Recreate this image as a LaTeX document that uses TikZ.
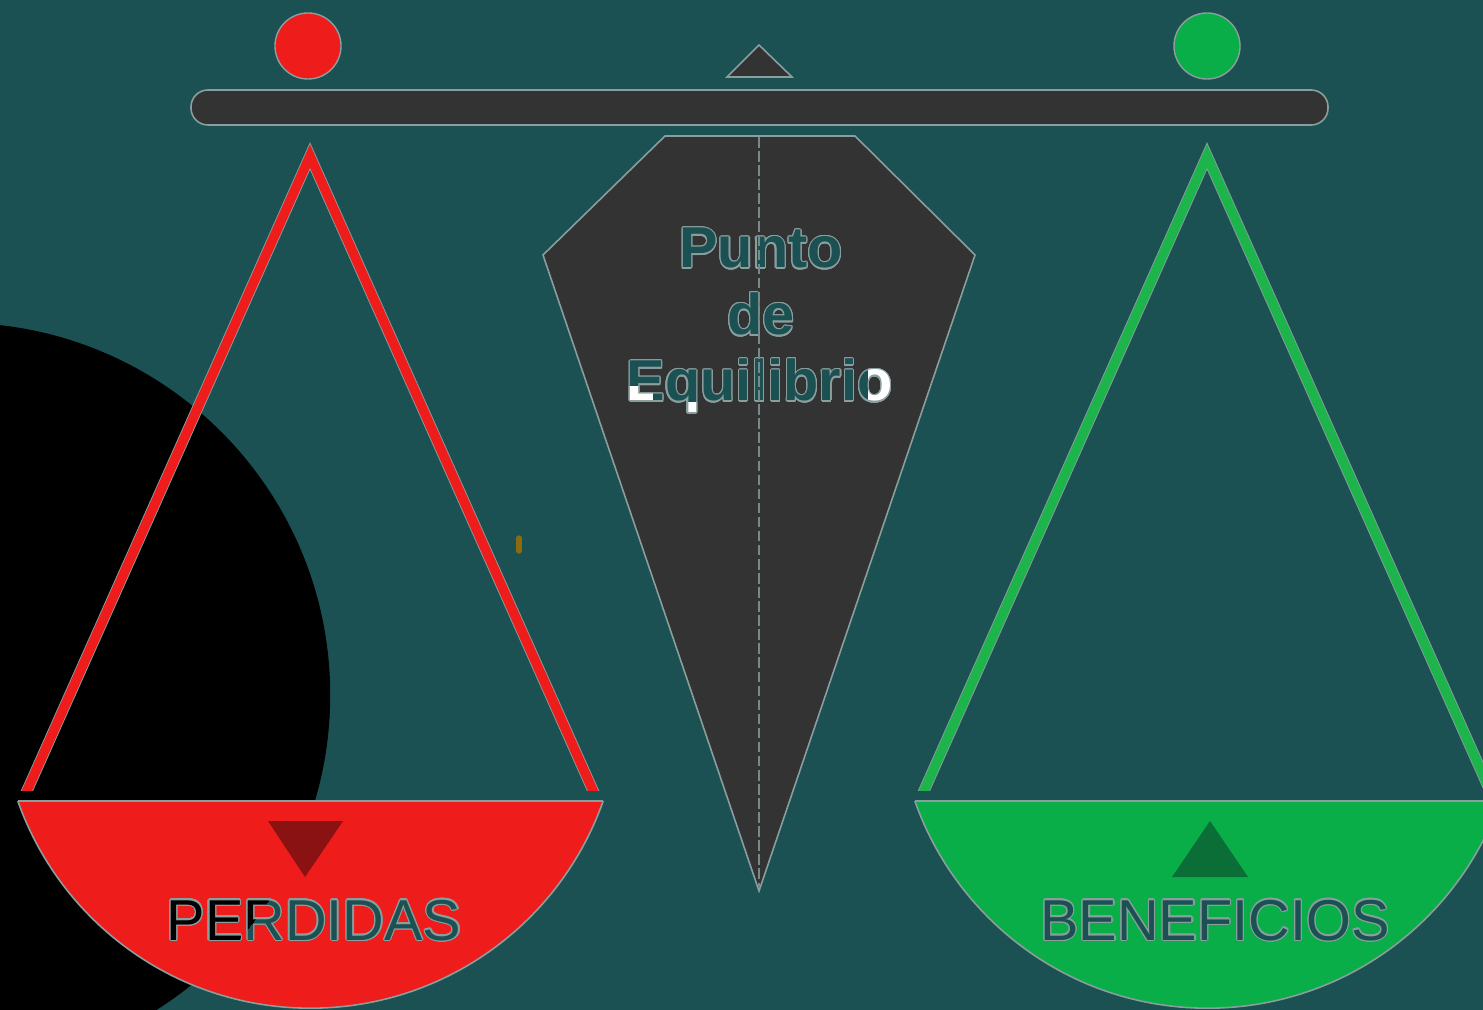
\documentclass[tikz,border=0pt]{standalone}
\usepackage{fontspec}
\setmainfont{Liberation Sans}
\usepackage{contour}
\contourlength{0.35pt}
\definecolor{bg}{HTML}{1B5152}
\definecolor{outl}{HTML}{8A9E9E}
\definecolor{dgray}{HTML}{333333}
\definecolor{redc}{HTML}{EE1C1A}
\definecolor{greenc}{HTML}{0AAE48}
\definecolor{greenleg}{HTML}{1DB44C}
\definecolor{dred}{HTML}{8B1212}
\definecolor{dgreen}{HTML}{0B6E36}
\definecolor{ochre}{HTML}{8B6A10}
\tikzset{
  graybody/.style={fill=dgray, draw=outl, line width=0.45pt, line join=miter},
  legout/.style={draw=outl, line width=3.2pt, line join=miter},
  legred/.style={draw=redc, line width=2.7pt, line join=miter},
  leggreen/.style={draw=greenleg, line width=2.7pt, line join=miter},
  pantext/.style={font=\fontsize{16.4}{19}\selectfont, inner sep=0pt, anchor=base},
  eqtext/.style={font=\fontsize{16.4}{19}\selectfont\bfseries, inner sep=0pt, anchor=base},
}
\begin{document}
\begin{tikzpicture}[x=0.01cm, y=-0.01cm]
\useasboundingbox (0,0) rectangle (1483,1010);
\clip (0,0) rectangle (1483,1010);
% background
\fill[bg] (0,0) rectangle (1483,1010);
% black disc
\fill[black] (-42,695) circle[radius=3.72cm];
% beam, pivot, weights
\draw[graybody, rounded corners=4.8pt] (191,90) rectangle (1328,125);
\draw[graybody] (727,77) -- (759,45) -- (792,77) -- cycle;
\draw[fill=redc, draw=outl, line width=0.4pt] (308,46) circle[radius=0.33cm];
\draw[fill=greenc, draw=outl, line width=0.4pt] (1207,46) circle[radius=0.33cm];
% legs
\begin{scope}
\clip (0,0) rectangle (1483,790);
\draw[legout] (18.4,810) -- (310,156) -- (601.6,810);
\draw[legred] (18.4,810) -- (310,156) -- (601.6,810);
\draw[legout] (915.4,810) -- (1207,156) -- (1498.6,810);
\draw[leggreen] (915.4,810) -- (1207,156) -- (1498.6,810);
\end{scope}
% central kite
\draw[graybody] (665,136) -- (855,136) -- (975,255) -- (759,891) -- (543,255) -- cycle;
% pans
\begin{scope}
\clip (0,801) rectangle (1483,1010);
\draw[fill=redc, draw=outl, line width=0.45pt] (310.5,698) circle[radius=3.1cm];
\draw[fill=greenc, draw=outl, line width=0.45pt] (1207.5,698) circle[radius=3.1cm];
\end{scope}
\draw[outl, line width=0.45pt] (18,801) -- (603,801);
\draw[outl, line width=0.45pt] (915,801) -- (1483,801);
% pan arrows
\fill[dred] (268,821) -- (343,821) -- (305,877) -- cycle;
\fill[dgreen] (1172,877) -- (1248,877) -- (1210,821) -- cycle;
% small mark
\draw[ochre, line width=1.5pt, line cap=round] (519,538) -- (519,551);
% texts
\node[pantext, text=bg] (perd) at (314,940) {\contour{outl}{PERDIDAS}};
\begin{scope}
\clip (-42,695) circle[radius=3.72cm];
\node[pantext, text=black] (perdk) at (314,940) {\contour{outl}{PERDIDAS}};
\end{scope}
\node[pantext, text=bg] (bene) at (1215,940) {\contour{outl}{BENEFICIOS}};
\node[eqtext, text=bg] (punto) at (761,268) {\contour{outl}{Punto}};
\node[eqtext, text=bg] (de) at (761,335) {\contour{outl}{de}};
\node[eqtext, text=bg] (equi) at (759.5,401) {\contour{outl}{Equilibrio}};
\begin{scope}
\clip (620,386) rectangle (652,402) (686,402) rectangle (700,416) (868,355) rectangle (900,410);
\node[eqtext, text=white] (equiw) at (759.5,401) {\contour{outl}{Equilibrio}};
\end{scope}
% axis of the kite
\draw[outl!80!dgray, line width=0.5pt, dash pattern=on 3pt off 1pt] (759,137) -- (759,888);
\end{tikzpicture}
\end{document}
